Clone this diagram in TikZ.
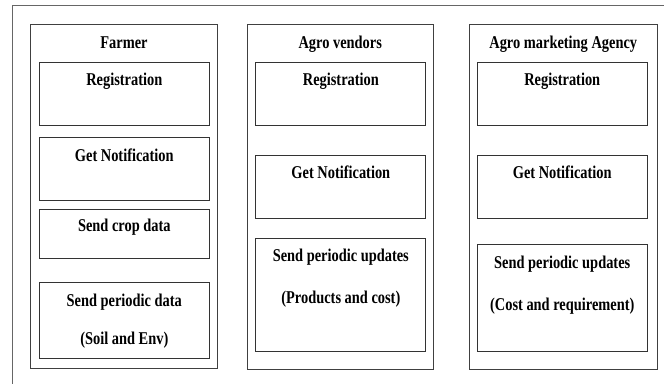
\documentclass[tikz,border=0pt]{standalone}
\usepackage{fontspec}
\setmainfont{Liberation Serif}
\newfontfamily\labelfont[FakeStretch=0.8]{Liberation Serif}
\begin{document}
\begin{tikzpicture}[x=1pt,y=-1pt,
  frame/.style={draw=black!60,line width=1pt},
  column/.style={draw=black!75,line width=1pt,anchor=north west,inner sep=0pt},
  stepbox/.style={draw=black!80,line width=1.1pt,anchor=north west,inner sep=0pt},
  lbl/.style={anchor=base,inner sep=0pt,font=\labelfont\fontsize{18}{20}\selectfont\bfseries}]
\clip (0,0) rectangle (664,383);
\fill[white] (0,0) rectangle (664,383);
% outer frame, running off the right and bottom edges
\draw[frame] (12,395) -- (12,5) -- (680,5);

% Farmer column
\node[column,minimum width=187,minimum height=344] (farmer) at (30,24) {};
\node[lbl] (tFarmer) at ([yshift=-24]farmer.north) {Farmer};
\node[stepbox,minimum width=170.5,minimum height=63] (fReg) at (38.5,62) {};
\node[lbl] at ([yshift=-23]fReg.north) {Registration};
\node[stepbox,minimum width=170.5,minimum height=63] (fNot) at (38.5,137) {};
\node[lbl] at ([yshift=-24.5]fNot.north) {Get Notification};
\node[stepbox,minimum width=170.5,minimum height=49] (fCrop) at (38.5,209) {};
\node[lbl] at ([yshift=-22]fCrop.north) {Send crop data};
\node[stepbox,minimum width=170.5,minimum height=76] (fPer) at (38.5,282) {};
\node[lbl] at ([yshift=-24]fPer.north) {Send periodic data};
\node[lbl] at ([yshift=-62]fPer.north) {(Soil and Env)};

% Agro vendors column
\node[column,minimum width=186.5,minimum height=345] (vendor) at (246.5,24) {};
\node[lbl] (tVendor) at ([yshift=-24]vendor.north) {Agro vendors};
\node[stepbox,minimum width=170,minimum height=63] (vReg) at (255.3,62) {};
\node[lbl] at ([yshift=-23]vReg.north) {Registration};
\node[stepbox,minimum width=170,minimum height=63] (vNot) at (255.3,155) {};
\node[lbl] at ([yshift=-23]vNot.north) {Get Notification};
\node[stepbox,minimum width=170,minimum height=113] (vPer) at (255.3,238) {};
\node[lbl] at ([yshift=-23]vPer.north) {Send periodic updates};
\node[lbl] at ([yshift=-65]vPer.north) {(Products and cost)};

% Agro marketing Agency column
\node[column,minimum width=187.5,minimum height=345] (agency) at (469,24) {};
\node[lbl] (tAgency) at ([yshift=-24]agency.north) {Agro marketing Agency};
\node[stepbox,minimum width=170,minimum height=63] (aReg) at (476.7,62) {};
\node[lbl] at ([yshift=-23]aReg.north) {Registration};
\node[stepbox,minimum width=170,minimum height=63] (aNot) at (476.7,155) {};
\node[lbl] at ([yshift=-23]aNot.north) {Get Notification};
\node[stepbox,minimum width=170,minimum height=107] (aPer) at (476.7,244) {};
\node[lbl] at ([yshift=-24]aPer.north) {Send periodic updates};
\node[lbl] at ([yshift=-66]aPer.north) {(Cost and requirement)};
\end{tikzpicture}
\end{document}
